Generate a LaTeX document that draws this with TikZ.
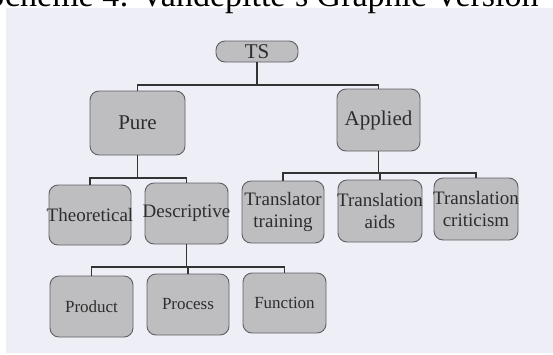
\documentclass[tikz,border=0pt]{standalone}
\usepackage{fontspec}
\setmainfont{Liberation Serif}
\definecolor{bg}{RGB}{238,238,247}
\definecolor{boxfill}{RGB}{190,190,193}
\definecolor{boxline}{RGB}{95,95,100}
\definecolor{txt}{RGB}{45,45,45}
\begin{document}
\begin{tikzpicture}[x=1pt,y=-1pt,
  box/.style={draw=boxline, fill=boxfill, rounded corners=9pt, line width=0.9pt, inner sep=0pt},
  lblA/.style={text=txt, font=\fontsize{21}{24}\selectfont, inner sep=0pt},
  lblB/.style={text=txt, font=\fontsize{19}{22}\selectfont, align=center, inner sep=0pt},
  lblC/.style={text=txt, font=\fontsize{17}{20}\selectfont, inner sep=0pt},
  conn/.style={draw=black!80, line width=1.2pt}]
\useasboundingbox (0,0) rectangle (553,354);
\clip (0,0) rectangle (553,354);
\fill[white] (0,0) rectangle (553,354);
\fill[bg] (6,8) rectangle (553,353);
\node[anchor=base west, inner sep=0pt, font=\fontsize{34}{40}\selectfont] (title) at (-14,6) {Scheme 4: Vandepitte’s Graphic Version};

% bus coordinates
\coordinate (b1) at (257,85);
\coordinate (b2) at (137.5,178);
\coordinate (b3) at (378.5,173);
\coordinate (b4) at (186.5,267);

% boxes (positions only)
\path
  (257,51.5) coordinate (pts)
  (137.5,123) coordinate (ppure)
  (378.5,120) coordinate (papp);

\node[box, minimum width=82pt, minimum height=21pt, label={[lblA]center:TS}] (ts) at (pts) {};
\node[box, minimum width=95pt, minimum height=64pt, label={[lblA]center:Pure}] (pure) at (ppure) {};
\node[box, minimum width=83pt, minimum height=62pt, label={[lblA]center:Applied}] (applied) at (papp) {};

\node[box, minimum width=82pt, minimum height=60pt, label={[lblB]center:Theoretical}] (theo) at (90,215) {};
\node[box, minimum width=83pt, minimum height=61pt, label={[lblB]center:Descriptive}] (desc) at (186.5,213.5) {};
\node[box, minimum width=82pt, minimum height=62pt, label={[lblB]center:Translator\\training}] (tt) at (283,212) {};
\node[box, minimum width=84pt, minimum height=62pt, label={[lblB]center:Translation\\aids}] (ta) at (380,211) {};
\node[box, minimum width=84pt, minimum height=62pt, label={[lblB]center:Translation\\criticism}] (tc) at (476,209) {};

\node[box, minimum width=83pt, minimum height=61pt, label={[lblC]center:Product}] (prod) at (91.5,306.5) {};
\node[box, minimum width=82pt, minimum height=61pt, label={[lblC]center:Process}] (proc) at (188,304.5) {};
\node[box, minimum width=83pt, minimum height=60pt, label={[lblC]center:Function}] (func) at (284.5,303) {};

% connectors
\draw[conn] (ts.south) -- (b1);
\draw[conn] (pure.north) |- (b1) -| (applied.north);

\draw[conn] (pure.south) -- (b2);
\draw[conn] (theo.north) |- (b2) -| (desc.north);

\draw[conn] (applied.south) -- (b3);
\draw[conn] (tt.north) |- (b3) -| (tc.north);
\draw[conn] (b3 -| ta.north) -- (ta.north);

\draw[conn] (desc.south) -- (b4);
\draw[conn] (prod.north) |- (b4) -| (func.north);
\draw[conn] (b4 -| proc.north) -- (proc.north);
\end{tikzpicture}
\end{document}
